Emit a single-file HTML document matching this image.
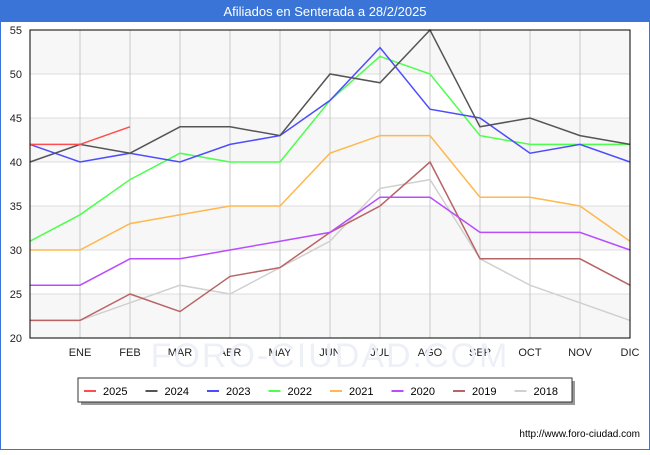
<!DOCTYPE html>
<html><head><meta charset="utf-8"><style>
body{margin:0;width:650px;height:450px;overflow:hidden;font-family:"Liberation Sans",sans-serif;background:#fff}
</style></head><body>
<svg width="650" height="450" xmlns="http://www.w3.org/2000/svg" font-family="Liberation Sans, sans-serif">
<rect x="0.5" y="0.5" width="649" height="449" fill="#fff" stroke="#3a74d6"/>
<rect x="0" y="0" width="650" height="22" fill="#3a74d6"/>
<text x="325" y="16" fill="#fff" font-size="13" text-anchor="middle">Afiliados en Senterada a 28/2/2025</text>
<g id="plot"></g>
<text x="640" y="437" font-size="10" text-anchor="end" fill="#000">http://www.foro-ciudad.com</text>
</svg>
<script>
const months=["","ENE","FEB","MAR","ABR","MAY","JUN","JUL","AGO","SEP","OCT","NOV","DIC"];
const yTicks=[20,25,30,35,40,45,50,55];
const seriesNames=["2025","2024","2023","2022","2021","2020","2019","2018"];
const seriesColors=["#ff4d4d","#555555","#4d4dff","#4dff4d","#ffb84d","#b84dff","#b86464","#d0d0d0"];
const s2025=[42,42,44];
const s2024=[40,42,41,44,44,43,50,49,55,44,45,43,42];
const s2023=[42,40,41,40,42,43,47,53,46,45,41,42,40];
const s2022=[31,34,38,41,40,40,47,52,50,43,42,42,42];
const s2021=[30,30,33,34,35,35,41,43,43,36,36,35,31];
const s2020=[26,26,29,29,30,31,32,36,36,32,32,32,30];
const s2019=[22,22,25,23,27,28,32,35,40,29,29,29,26];
const s2018=[22,22,24,26,25,28,31,37,38,29,26,24,22];
const allSeries=[s2025,s2024,s2023,s2022,s2021,s2020,s2019,s2018];
const NS="http://www.w3.org/2000/svg";
const X0=30,X1=630,Y0=338,Y1=30;
const x=i=>X0+i*(X1-X0)/(months.length-1);
const y=v=>Y0-(v-20)*(Y0-Y1)/35;
const g=document.getElementById('plot');
function mk(t,a,p){const e=document.createElementNS(NS,t);for(const k in a)e.setAttribute(k,a[k]);(p||g).appendChild(e);return e;}
for(let i=0;i<yTicks.length-1;i++){
 if(i%2==0){const r=mk('rect',{x:X0,y:y(yTicks[i+1]),width:X1-X0,height:y(yTicks[i])-y(yTicks[i+1]),fill:'#f7f7f7'});
 
 }
}
yTicks.forEach(v=>{
 const l=mk('line',{x1:X0,x2:X1,y1:y(v),y2:y(v),stroke:'#dddddd'});
 
 
 const t=mk('text',{x:X0-8,y:y(v)+4,'font-size':11,'text-anchor':'end',fill:'#222'});
 t.textContent=v;
 
 
});
months.forEach((m,i)=>{
 if(i>0){const l=mk('line',{x1:x(i),x2:x(i),y1:Y1,y2:Y0,stroke:'#c8c8c8'});
 
 }
 const t=mk('text',{x:x(i),y:Y0+18,'font-size':11,'text-anchor':'middle',fill:'#222'});
 t.textContent=m;
 
 
});
const wm=mk('text',{x:330,y:367,'font-size':34,'text-anchor':'middle',fill:'#eef0f8','letter-spacing':'2'});
wm.textContent="FORO-CIUDAD.COM";


for(let s=allSeries.length-1;s>=0;s--){
 const pts=allSeries[s].map((v,i)=>x(i)+','+y(v)).join(' ');
 const p=mk('polyline',{points:pts,fill:'none',stroke:seriesColors[s],'stroke-width':1.5});
 
 
}
const ax=mk('rect',{x:X0,y:Y1,width:X1-X0,height:Y0-Y1,fill:'none',stroke:'#000'});


const lg=mk('g',{});


mk('rect',{x:81,y:381,width:494,height:24,fill:'#999'},lg);
mk('rect',{x:78,y:378,width:494,height:24,fill:'#fff',stroke:'#333'},lg);
seriesNames.forEach((n,i)=>{
 const bx=84+i*61.5;
 const l=mk('line',{x1:bx,x2:bx+12,y1:391,y2:391,stroke:seriesColors[i],'stroke-width':2},lg);
 
 
 const t=mk('text',{x:bx+19,y:395,'font-size':11,fill:'#000'},lg);
 t.textContent=n;
 
 
});
</script>
</body></html>
